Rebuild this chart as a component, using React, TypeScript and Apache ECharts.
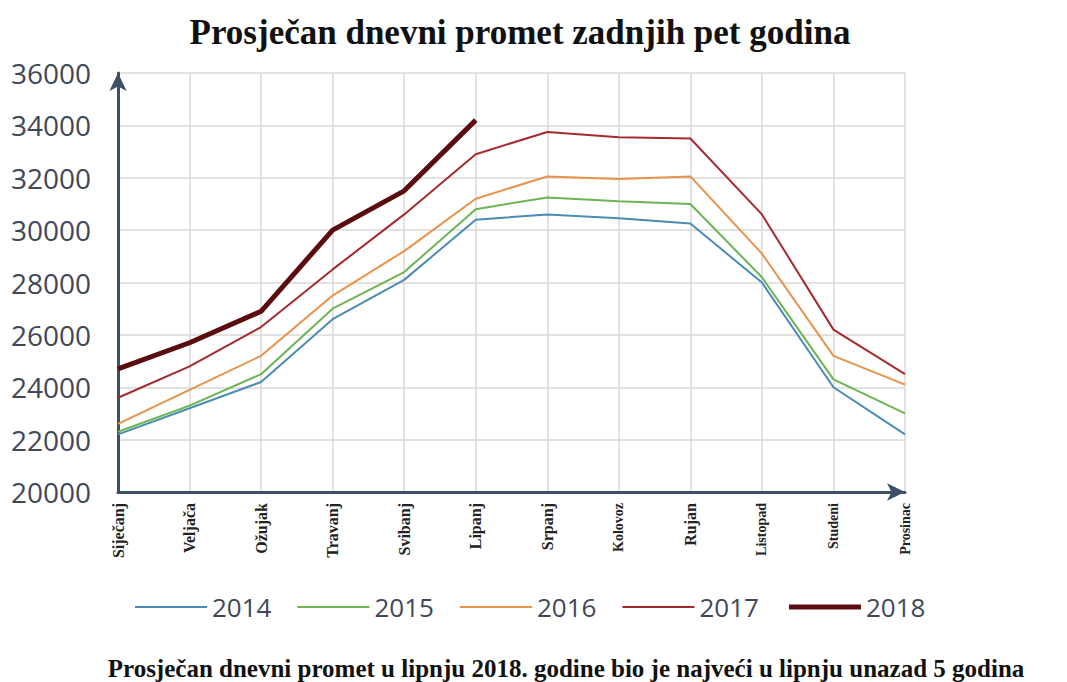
import React, { useEffect, useRef } from "react";
import * as echarts from "echarts";

const months = ["Siječanj", "Veljača", "Ožujak", "Travanj", "Svibanj", "Lipanj", "Srpanj", "Kolovoz", "Rujan", "Listopad", "Studeni", "Prosinac"];
const smallMonths = ["Kolovoz", "Listopad", "Studeni", "Prosinac"];
const years = ["2014", "2015", "2016", "2017", "2018"];
const v2014 = [22200, 23200, 24200, 26600, 28100, 30400, 30600, 30450, 30250, 28000, 24000, 22200];
const v2015 = [22300, 23300, 24500, 27000, 28400, 30800, 31250, 31100, 31000, 28200, 24300, 23000];
const v2016 = [22600, 23900, 25200, 27500, 29200, 31200, 32050, 31950, 32050, 29100, 25200, 24100];
const v2017 = [23600, 24800, 26300, 28500, 30600, 32900, 33750, 33550, 33500, 30600, 26200, 24500];
const v2018 = [24700, 25700, 26900, 30000, 31500, 34200];
const yTicks = { min: 20000, max: 36000, interval: 2000 };
const titleText = "Prosječan dnevni promet zadnjih pet godina";
const footText = "Prosječan dnevni promet u lipnju 2018. godine bio je najveći u lipnju unazad 5 godina";

const colors = ["#4a8cb4", "#6cb552", "#e9924a", "#a52a2e", "#5a0c0e"];
const widths = [2, 2, 2, 2, 5];
const seriesValues = [v2014, v2015, v2016, v2017, v2018];

export default function App() {
  const ref = useRef<HTMLDivElement>(null);
  useEffect(() => {
    if (!ref.current) return;
    const chart = echarts.init(ref.current, null, { renderer: "svg" });
    const legendText = { fontFamily: "Open Sans", fontSize: 26, color: "#404858" };
    chart.setOption({
      animation: false,
      backgroundColor: "#ffffff",
      title: [
        {
          text: titleText,
          left: 515,
          top: 10,
          textAlign: "center",
          textStyle: { fontFamily: "Liberation Serif", fontWeight: "bold", fontSize: 35, color: "#111" },
        },
        {
          text: footText,
          left: 561,
          top: 650,
          textAlign: "center",
          textStyle: { fontFamily: "Liberation Serif", fontWeight: "bold", fontSize: 25, lineHeight: 26, color: "#111" },
        },
      ],
      legend: [
        {
          data: years.slice(0, 4),
          left: 130,
          top: 589,
          icon: "rect",
          itemWidth: 72,
          itemHeight: 2,
          itemGap: 26,
          textStyle: legendText,
        },
        {
          data: years.slice(4),
          left: 784,
          top: 589,
          icon: "rect",
          itemWidth: 72,
          itemHeight: 5,
          textStyle: legendText,
        },
      ],
      grid: { left: 118, right: 162, top: 73, bottom: 190, containLabel: false },
      xAxis: {
        type: "category",
        data: months,
        boundaryGap: false,
        axisLine: {
          show: true,
          symbol: ["none", "arrow"],
          symbolSize: [13, 18],
          lineStyle: { color: "#3c5068", width: 3 },
        },
        axisTick: { show: false },
        splitLine: { show: true, lineStyle: { color: "#d9d9d9", width: 1.5 } },
        axisLabel: {
          rotate: 90,
          margin: 11,
          interval: 0,
          fontFamily: "Liberation Serif",
          fontWeight: "bold",
          fontSize: 16,
          color: "#222",
          formatter: (v: string) => (smallMonths.includes(v) ? `{s|${v}}` : v),
          rich: { s: { fontFamily: "Liberation Serif", fontWeight: "bold", fontSize: 14, color: "#222" } },
        },
      },
      yAxis: {
        type: "value",
        min: yTicks.min,
        max: yTicks.max,
        interval: yTicks.interval,
        axisLine: {
          show: true,
          symbol: ["none", "arrow"],
          symbolSize: [13, 18],
          lineStyle: { color: "#3c5068", width: 3 },
        },
        axisTick: { show: false },
        splitLine: { show: true, lineStyle: { color: "#d9d9d9", width: 1.5 } },
        axisLabel: {
          margin: 27,
          fontFamily: "Open Sans",
          fontSize: 28,
          color: "#404858",
          formatter: (v: number) => String(v),
        },
      },
      series: years.map((y, i) => ({
        name: y,
        type: "line",
        data: seriesValues[i],
        symbol: "none",
        showSymbol: false,
        color: colors[i],
        lineStyle: { color: colors[i], width: widths[i] },
        z: 2 + i,
      })),
    });
    return () => chart.dispose();
  }, []);
  return <div ref={ref} style={{ position: "fixed", left: 0, top: 0, width: 1067, height: 682 }} />;
}
